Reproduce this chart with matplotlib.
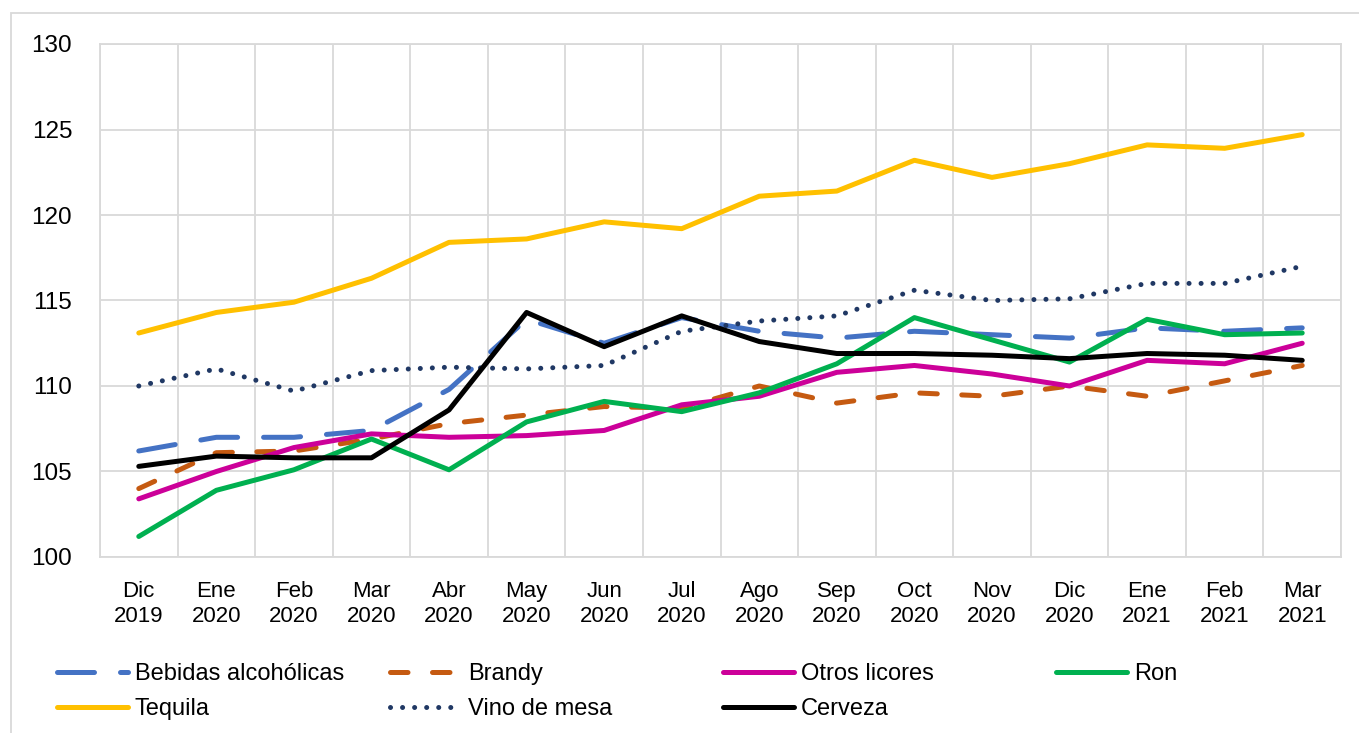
import matplotlib
matplotlib.use("Agg")
import matplotlib.pyplot as plt
from matplotlib.patches import Rectangle

plt.rcParams["font.family"] = ["Liberation Sans", "DejaVu Sans"]

MONTHS = ["Dic\n2019", "Ene\n2020", "Feb\n2020", "Mar\n2020", "Abr\n2020", "May\n2020",
          "Jun\n2020", "Jul\n2020", "Ago\n2020", "Sep\n2020", "Oct\n2020", "Nov\n2020",
          "Dic\n2020", "Ene\n2021", "Feb\n2021", "Mar\n2021"]

bebidas = [106.2, 107.0, 107.0, 107.4, 109.8, 113.9, 112.5, 114.0,
           113.2, 112.8, 113.2, 113.0, 112.8, 113.4, 113.2, 113.4]
brandy = [104.0, 106.1, 106.2, 106.9, 107.8, 108.3, 108.8, 108.7,
          110.0, 109.0, 109.6, 109.4, 110.0, 109.4, 110.3, 111.2]
otros = [103.4, 105.0, 106.4, 107.2, 107.0, 107.1, 107.4, 108.9,
         109.4, 110.8, 111.2, 110.7, 110.0, 111.5, 111.3, 112.5]
ron = [101.2, 103.9, 105.1, 106.9, 105.1, 107.9, 109.1, 108.5,
       109.6, 111.3, 114.0, 112.7, 111.4, 113.9, 113.0, 113.1]
tequila = [113.1, 114.3, 114.9, 116.3, 118.4, 118.6, 119.6, 119.2,
           121.1, 121.4, 123.2, 122.2, 123.0, 124.1, 123.9, 124.7]
vino = [110.0, 111.0, 109.7, 110.9, 111.1, 111.0, 111.2, 113.2,
        113.8, 114.1, 115.6, 115.0, 115.1, 116.0, 116.0, 117.0]
cerveza = [105.3, 105.9, 105.8, 105.8, 108.6, 114.3, 112.3, 114.1,
           112.6, 111.9, 111.9, 111.8, 111.6, 111.9, 111.8, 111.5]

LW = 3.6
series = [
    ("Bebidas alcohólicas", bebidas, dict(color="#4472C4", dashes=(7.4, 5.2))),
    ("Brandy", brandy, dict(color="#C55A11", dashes=(3.5, 4.9))),
    ("Otros licores", otros, dict(color="#CC0099")),
    ("Ron", ron, dict(color="#00B050")),
    ("Tequila", tequila, dict(color="#FFC000")),
    ("Vino de mesa", vino, dict(color="#203864", dashes=(0.01, 2.4))),
    ("Cerveza", cerveza, dict(color="black")),
]

fig = plt.figure(figsize=(13.59, 7.33), dpi=100)
ax = fig.add_axes([100 / 1359, 1 - 557 / 733, 1241 / 1359, 513 / 733])

x = list(range(len(MONTHS)))
handles = {}
for label, vals, style in series:
    line, = ax.plot(x, vals, lw=LW, label=label, solid_joinstyle="round",
                    solid_capstyle="round", dash_capstyle="round",
                    dash_joinstyle="round", **style)
    handles[label] = line

ax.set_xlim(-0.5, len(MONTHS) - 0.5)
ax.set_ylim(100, 130)
ax.set_yticks(range(100, 131, 5))
ax.set_xticks(x)
ax.set_xticklabels(MONTHS, linespacing=1.25)
ax.set_xticks([i + 0.5 for i in range(-1, len(MONTHS))], minor=True)

grid_c = "#D9D9D9"
ax.grid(True, axis="y", which="major", color=grid_c, lw=1.3)
ax.grid(True, axis="x", which="minor", color=grid_c, lw=1.3)
ax.set_axisbelow(True)
for s in ax.spines.values():
    s.set_color(grid_c)
    s.set_linewidth(1.3)

ax.tick_params(axis="both", which="both", length=0)
ax.tick_params(axis="y", pad=20, labelsize=17.5)
ax.tick_params(axis="x", pad=17, labelsize=16)

# outer chart border
fig.patches.append(Rectangle((11 / 1359, -0.05), 1.1, 1 - 13 / 733 + 0.05,
                             transform=fig.transFigure, fill=False,
                             edgecolor=grid_c, lw=1.3))

columns = [["Bebidas alcohólicas", "Tequila"], ["Brandy", "Vino de mesa"],
           ["Otros licores", "Cerveza"], ["Ron"]]
for i, col in enumerate(columns):
    fig.legend([handles[c] for c in col], col, loc="upper left",
               bbox_to_anchor=((57 + 333 * i) / 1359, 1 - 663 / 733),
               frameon=False, fontsize=17, handlelength=3.0,
               handletextpad=0.3, borderpad=0, borderaxespad=0,
               labelspacing=0.55)

fig.savefig("out.png", dpi=100)
